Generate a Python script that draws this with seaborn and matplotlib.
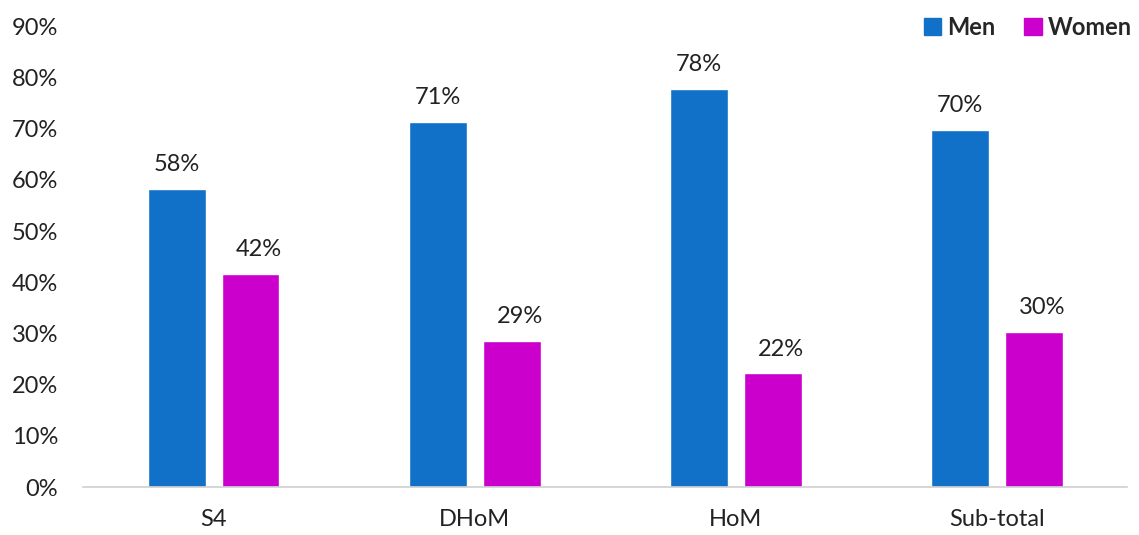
import matplotlib
matplotlib.use("Agg")
import matplotlib.pyplot as plt
import seaborn as sns
import pandas as pd
from matplotlib.patches import Patch

categories = ["S4", "DHoM", "HoM", "Sub-total"]
men = [58.3, 71.4, 77.8, 69.7]
women = [41.7, 28.6, 22.2, 30.3]
series_names = ["Men", "Women"]
colors = ["#1170C8", "#CC00CC"]
yticks = [0, 10, 20, 30, 40, 50, 60, 70, 80, 90]

sns.set_theme(style="white")
plt.rcParams['font.family'] = ['Lato', 'DejaVu Sans']

df = pd.DataFrame({
    "category": categories * 2,
    "value": men + women,
    "series": [series_names[0]] * len(categories) + [series_names[1]] * len(categories),
})

fig = plt.figure(figsize=(11.39, 5.35), dpi=100)
ax = fig.add_axes([0.0729, 0.0897, 0.9166, 0.8608])

sns.barplot(data=df, x="category", y="value", hue="series", palette=colors,
            width=0.567, gap=0.217, ax=ax, legend=False, saturation=1)

for i, cont in enumerate(ax.containers):
    dx = 0 if i == 0 else 6
    for bar in cont:
        h = bar.get_height()
        ax.annotate(f"{round(h):d}%", (bar.get_x() + bar.get_width() / 2, h),
                    xytext=(dx, 10), textcoords="offset points",
                    ha="center", va="bottom", fontsize=17, color="#222222")

ax.set_ylim(0, 90)
ax.set_yticks(yticks)
ax.set_yticklabels([f"{t}%" for t in yticks], fontsize=17, color="#222222")
ax.tick_params(axis="x", labelsize=17, colors="#222222", length=0, pad=16)
ax.tick_params(axis="y", length=0, pad=18)
ax.set_xlabel("")
ax.set_ylabel("")
for s in ["top", "right", "left"]:
    ax.spines[s].set_visible(False)
ax.spines["bottom"].set_color("#D0D0D0")
ax.spines["bottom"].set_linewidth(1.2)
ax.set_xlim(-0.5, 3.5)

handles = [Patch(facecolor=c, edgecolor=c) for c in colors]
leg = fig.legend(handles, series_names, loc="upper right", bbox_to_anchor=(1.006, 0.997),
                 ncol=2, frameon=False, handlelength=0.75, handleheight=0.75,
                 handletextpad=0.25, columnspacing=1.2, borderaxespad=0.2,
                 prop={"weight": "bold", "size": 17})

fig.savefig("out.png", dpi=100)
